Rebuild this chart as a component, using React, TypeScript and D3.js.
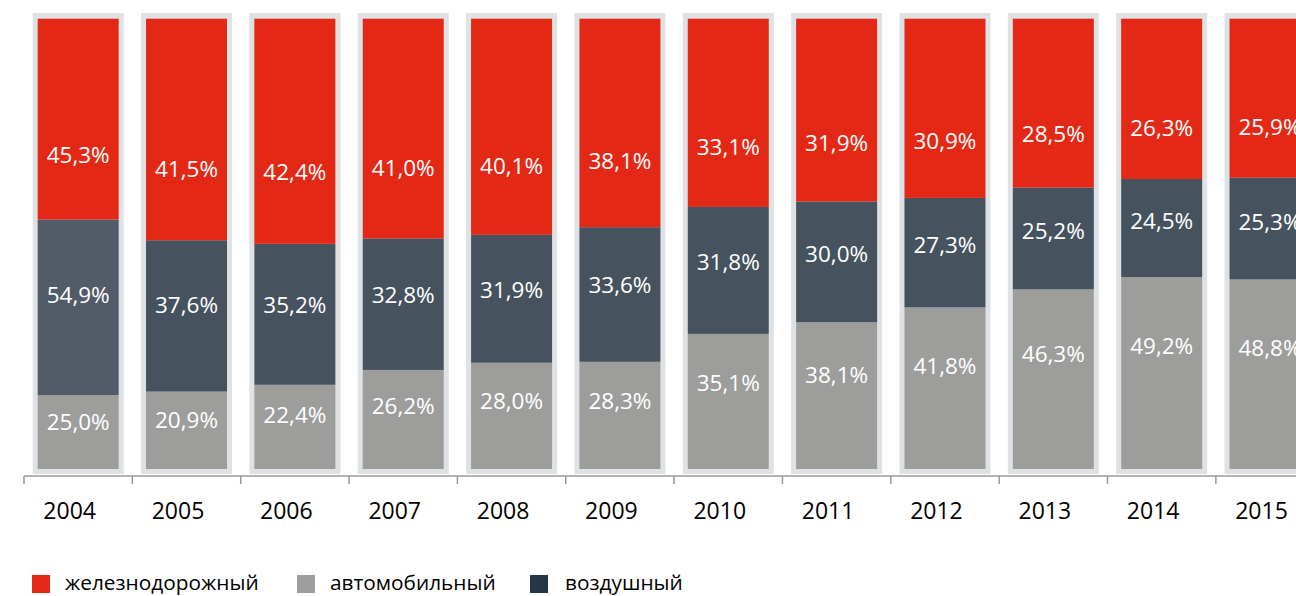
import React from 'react';
import * as d3 from 'd3';

const years = ['2004', '2005', '2006', '2007', '2008', '2009', '2010', '2011', '2012', '2013', '2014', '2015'];
// drawn segment shares (bottom to top)
const roadShare = [16.4, 17.2, 18.7, 22.0, 23.6, 23.8, 30.0, 32.6, 35.9, 39.9, 42.6, 42.1];
const airShare = [39.0, 33.6, 31.3, 29.2, 28.4, 29.9, 28.2, 26.8, 24.3, 22.6, 21.8, 22.6];
const railShare = [44.6, 49.2, 50.0, 48.8, 48.0, 46.3, 41.8, 40.6, 39.8, 37.5, 35.6, 35.3];
// printed labels
const roadLabels = ['25,0%', '20,9%', '22,4%', '26,2%', '28,0%', '28,3%', '35,1%', '38,1%', '41,8%', '46,3%', '49,2%', '48,8%'];
const airLabels = ['54,9%', '37,6%', '35,2%', '32,8%', '31,9%', '33,6%', '31,8%', '30,0%', '27,3%', '25,2%', '24,5%', '25,3%'];
const railLabels = ['45,3%', '41,5%', '42,4%', '41,0%', '40,1%', '38,1%', '33,1%', '31,9%', '30,9%', '28,5%', '26,3%', '25,9%'];
const legendNames = ['железнодорожный', 'автомобильный', 'воздушный'];

const W = 1296;
const H = 596;
const FONT = "'Open Sans', 'Noto Sans', sans-serif";
const RED = '#e42816';
const DARK = '#46535f';
const DARK_FIRST = '#525c68';
const GRAY = '#9d9d9c';
const BG = '#dee2e5';
const LEGEND_DARK = '#253746';

export default function App() {
  const x = d3.scaleBand<string>().domain(years).range([24, 24 + 108.35 * years.length]).paddingInner(0).paddingOuter(0);
  const y = d3.scaleLinear().domain([0, 100]).range([469, 18.7]);
  const barW = 81;
  const bgW = 91;
  const step = x.step();

  const rows = years.map((yr, i) => ({ year: yr, road: roadShare[i], air: airShare[i], rail: railShare[i] }));
  const stack = d3.stack<any>().keys(['road', 'air', 'rail']);
  const series = stack(rows);
  const labelsByKey: Record<string, string[]> = { road: roadLabels, air: airLabels, rail: railLabels };
  const labelFrac: Record<string, number> = { road: 0.36, air: 0.43, rail: 0.68 };
  const colorFor = (key: string, i: number) =>
    key === 'rail' ? RED : key === 'road' ? GRAY : i === 0 ? DARK_FIRST : DARK;

  const legend = [
    { name: legendNames[0], color: RED, sx: 32, tx: 65 },
    { name: legendNames[1], color: GRAY, sx: 297, tx: 330 },
    { name: legendNames[2], color: LEGEND_DARK, sx: 530, tx: 565 },
  ];

  return (
    <svg width={W} height={H} style={{ position: 'absolute', left: 0, top: 0, background: '#fff' }} fontFamily={FONT}>
      {years.map((yr) => {
        const cx = (x(yr) as number) + step / 2;
        return <rect key={'bg' + yr} x={cx - bgW / 2} y={13} width={bgW} height={461} fill={BG} />;
      })}
      {series.map((s) =>
        s.map((d, i) => {
          const yr = years[i];
          const cx = (x(yr) as number) + step / 2;
          const top = y(d[1]);
          const bot = y(d[0]);
          return (
            <rect key={s.key + yr} x={cx - barW / 2} y={top} width={barW} height={bot - top} fill={colorFor(s.key, i)} />
          );
        })
      )}
      {series.map((s) =>
        s.map((d, i) => {
          const yr = years[i];
          const cx = (x(yr) as number) + step / 2;
          const top = y(d[1]);
          const bot = y(d[0]);
          const ly = top + (bot - top) * labelFrac[s.key];
          return (
            <text key={'l' + s.key + yr} x={cx} y={ly} dy="0.36em" textAnchor="middle" fill="#fff" fontSize={22.5}>
              {labelsByKey[s.key][i]}
            </text>
          );
        })
      )}
      {/* axis */}
      <line x1={24} x2={W} y1={476} y2={476} stroke="#9a9a9a" strokeWidth={1.5} />
      {years.map((yr) => (
        <line key={'t' + yr} x1={x(yr) as number} x2={x(yr) as number} y1={476} y2={484} stroke="#9a9a9a" strokeWidth={1.5} />
      ))}
      {years.map((yr) => (
        <text key={'y' + yr} x={(x(yr) as number) + step / 2 - 8.5} y={519} textAnchor="middle" fill="#000" fontSize={23}>
          {yr}
        </text>
      ))}
      {legend.map((l) => (
        <g key={l.name}>
          <rect x={l.sx} y={575} width={18} height={18} fill={l.color} />
          <text x={l.tx} y={590} fill="#000" fontSize={20.8}>
            {l.name}
          </text>
        </g>
      ))}
    </svg>
  );
}
